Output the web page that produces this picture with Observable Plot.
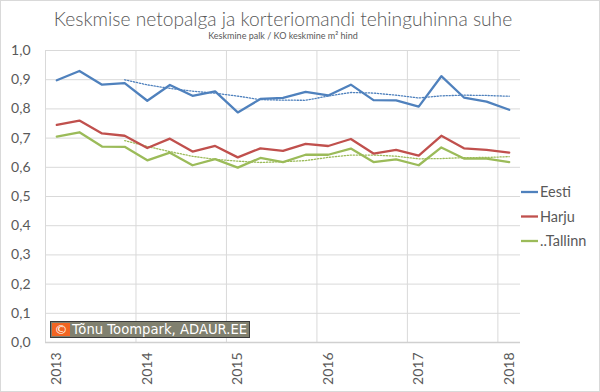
<!DOCTYPE html>
<html><head><meta charset="utf-8">
<script src="https://cdn.jsdelivr.net/npm/d3@7"></script>
<script src="https://cdn.jsdelivr.net/npm/@observablehq/plot@0.6"></script>
<style>
body{margin:0;background:#fff;}
#chart svg{outline:1px solid #d9d9d9;outline-offset:-1px;}
</style></head><body><div id="chart"></div>
<script>
const quarters = ["2013Q1","2013Q2","2013Q3","2013Q4","2014Q1","2014Q2","2014Q3","2014Q4","2015Q1","2015Q2","2015Q3","2015Q4","2016Q1","2016Q2","2016Q3","2016Q4","2017Q1","2017Q2","2017Q3","2017Q4","2018Q1"];
const years = ["2013","2014","2015","2016","2017","2018"];
const seriesNames = ["Eesti","Harju","..Tallinn"];
const seriesColors = ["#4F81BD","#C0504D","#9BBB59"];
const trendSeries = ["Eesti","..Tallinn"];
const eesti   = [0.898,0.930,0.883,0.888,0.828,0.882,0.845,0.860,0.788,0.834,0.838,0.858,0.846,0.883,0.830,0.829,0.808,0.912,0.839,0.825,0.797];
const harju   = [0.745,0.760,0.716,0.708,0.666,0.698,0.654,0.673,0.634,0.665,0.656,0.680,0.673,0.697,0.647,0.660,0.640,0.708,0.665,0.660,0.650];
const tallinn = [0.705,0.720,0.671,0.670,0.624,0.650,0.607,0.628,0.599,0.632,0.618,0.643,0.643,0.664,0.618,0.627,0.607,0.668,0.630,0.630,0.618];
const yTicks = [0,0.1,0.2,0.3,0.4,0.5,0.6,0.7,0.8,0.9,1.0];
const titleText = "Keskmise netopalga ja korteriomandi tehinguhinna suhe";
const subtitleText = "Keskmine palk / KO keskmine m² hind";
const copyrightText = "Tõnu Toompark, ADAUR.EE";

const valuesBySeries = [eesti, harju, tallinn];
const rows = [];
seriesNames.forEach((s, k) => valuesBySeries[k].forEach((v, i) => rows.push({i, q: quarters[i], series: s, value: v})));
const trendRows = rows.filter(d => trendSeries.includes(d.series));
const yearStarts = quarters.map((q, i) => ({q, i})).filter(d => d.q.endsWith("Q1")).map(d => d.i);
const yearBounds = yearStarts.map(i => i - 0.5);

const font = "Lato, 'Open Sans', sans-serif";
const plot = Plot.plot({
  width: 600, height: 392,
  marginLeft: 45, marginRight: 80, marginTop: 50, marginBottom: 50,
  style: {fontFamily: font, background: "#fff"},
  x: {domain: [-0.5, quarters.length - 0.5], label: null},
  y: {domain: [0, 1], label: null},
  color: {domain: seriesNames, range: seriesColors},
  marks: [
    Plot.ruleY(yTicks, {stroke: "#d9d9d9", strokeWidth: 1}),
    Plot.ruleX(yearBounds, {stroke: "#d9d9d9", strokeWidth: 1}),
    Plot.ruleY([0], {stroke: "#d0d0d0", strokeWidth: 1.5}),
    Plot.line(trendRows, Plot.windowY({k: 4, anchor: "end", strict: true},
      {x: "i", y: "value", stroke: "series", strokeWidth: 1.3, strokeDasharray: "1.3,1.7"})),
    Plot.line(rows, {x: "i", y: "value", stroke: "series", strokeWidth: 2.3}),
    Plot.axisY(yTicks, {label: null, tickSize: 0, tickPadding: 15, fontSize: 14, fill: "#595959",
      tickFormat: d => d3.format(".1f")(d).replace(".", ",")}),
    Plot.axisX(yearStarts, {label: null, tickSize: 0, tickPadding: 10, tickRotate: -90, fontSize: 14, fill: "#595959",
      tickFormat: i => years[yearStarts.indexOf(i)]}),
    Plot.text([titleText], {text: d => d, frameAnchor: "top", dy: -31, lineAnchor: "middle", fontSize: 19.2, fill: "#595959", fontWeight: 300}),
    Plot.text([subtitleText], {text: d => d, frameAnchor: "top", dy: -14, lineAnchor: "middle", fontSize: 9, fill: "#595959"})
  ]
});
document.getElementById("chart").append(plot);

// legend
const svg = d3.select(plot);
const lg = svg.append("g").attr("text-anchor", "start");
seriesNames.forEach((s, k) => {
  const y = 192 + k * 24.5;
  lg.append("line").attr("x1", 521).attr("x2", 538).attr("y1", y).attr("y2", y)
    .attr("stroke", seriesColors[k]).attr("stroke-width", 2.3);
  lg.append("text").attr("x", 540).attr("y", y).attr("dy", "0.35em").attr("text-anchor", "start")
    .attr("font-family", font).attr("font-size", 14.5).attr("fill", "#595959").text(s);
});
// copyright box
const cb = svg.append("g");
cb.append("rect").attr("x", 50.5).attr("y", 321.5).attr("width", 199).attr("height", 16)
  .attr("fill", "#80806f").attr("stroke", "#3a3a3a").attr("stroke-width", 1);
cb.append("rect").attr("x", 52).attr("y", 323).attr("width", 18).attr("height", 13).attr("fill", "#f26522");
cb.append("text").attr("x", 61).attr("y", 329.5).attr("dy", "0.35em").attr("text-anchor", "middle")
  .attr("font-family", "DejaVu Sans").attr("font-size", 13).attr("fill", "#fff").text("©");
cb.append("text").attr("x", 72).attr("y", 329.5).attr("dy", "0.35em").attr("text-anchor", "start")
  .attr("font-family", "DejaVu Sans").attr("font-size", 13.2).attr("fill", "#fff").text(copyrightText);
</script></body></html>
